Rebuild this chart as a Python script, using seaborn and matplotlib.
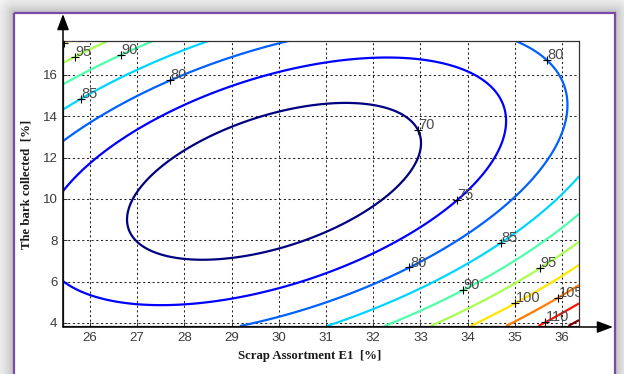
import numpy as np
import matplotlib
matplotlib.use("Agg")
import matplotlib.pyplot as plt
from matplotlib.patches import Rectangle
import seaborn as sns

# Second-order response surface of bark collected vs. scrap assortment
response_min = 66.65          # value at the optimum
optimum_x = 29.9              # scrap assortment E1 [%]
optimum_y = 10.85             # bark collected [%]
coef_xx = 0.453
coef_xy = -0.362
coef_yy = 0.305

levels = [70, 75, 80, 85, 90, 95, 100, 105, 110, 115]
x_ticks = [26, 27, 28, 29, 30, 31, 32, 33, 34, 35, 36]
y_ticks = [4, 6, 8, 10, 12, 14, 16]
x_range = (25.43, 36.36)
y_range = (3.85, 17.64)

# where each inline level label sits (snapped onto its contour)
label_spots = [
    (70, 33.0, 13.44),
    (75, 33.78, 9.9),
    (80, 32.76, 6.66), (80, 27.72, 15.6), (80, 35.68, 16.73),
    (85, 25.83, 14.8), (85, 34.71, 7.88),
    (90, 26.7, 16.82), (90, 33.9, 5.6),
    (95, 25.72, 16.77), (95, 35.53, 6.66),
    (100, 25.47, 17.45), (100, 35.0, 5.0),
    (105, 35.91, 5.25),
    (110, 35.66, 4.0),
]

sns.set_theme(style="white")
plt.rcParams["font.family"] = ["Liberation Sans", "DejaVu Sans"]

W, H = 624, 374
fig = plt.figure(figsize=(W / 100, H / 100), dpi=100)
fig.patch.set_facecolor("white")

# page backdrop: framed panel with a soft drop shadow
bg = fig.add_axes([0, 0, 1, 1], zorder=0)
bg.set_xlim(0, W)
bg.set_ylim(H, 0)
bg.axis("off")
fl, ft, fr, fb = 14, 13, 615, H + 30
yy, xx = np.mgrid[0:H, 0:W] + 0.5
dx = np.maximum(np.maximum(fl - xx, xx - fr), 0)
dy = np.maximum(np.maximum(ft - yy, yy - fb), 0)
dist = np.hypot(dx, dy)
outside = (dx > 0) | (dy > 0)
shade = np.where(outside, 1 - 0.27 * np.exp(-dist / 11), 1.0)
bg.imshow(shade, cmap="gray", vmin=0, vmax=1, extent=(0, W, H, 0),
          interpolation="bilinear", aspect="auto")
bg.add_patch(Rectangle((fl, ft), fr - fl, fb - ft, fill=False,
                       ec="#7b4aa8", lw=1.6))

# contour panel
ax = fig.add_axes([63 / W, (H - 326) / H, 516 / W, 285 / H], zorder=1)
ax.set_facecolor("white")

gx = np.linspace(*x_range, 400)
gy = np.linspace(*y_range, 400)
X, Y = np.meshgrid(gx, gy)
U, V = X - optimum_x, Y - optimum_y
Z = response_min + coef_xx * U**2 + coef_xy * U * V + coef_yy * V**2

cmap = matplotlib.colormaps["jet"]
norm = plt.Normalize(levels[0], levels[-1])
line_colors = [cmap(norm(lv)) for lv in levels]
cs = ax.contour(X, Y, Z, levels=levels, colors=line_colors, linewidths=1.6)

# MATLAB-style labels: a plus on the line, value up and to the right
for lv, tx, ty in label_spots:
    segs = [s for s in cs.allsegs[levels.index(lv)] if len(s)]
    pts = np.vstack(segs)
    k = np.argmin(((pts[:, 0] - tx) * 47.2) ** 2 + ((pts[:, 1] - ty) * 20.7) ** 2)
    px, py = pts[k]
    ax.plot(px, py, marker="+", color="black", ms=6, mew=0.8, zorder=4)
    ax.annotate(f"{lv}", (px, py), xytext=(0.3, -1.5), textcoords="offset points",
                ha="left", va="bottom", fontsize=10.5, color="#4a4a4a",
                annotation_clip=False, clip_on=True, zorder=5)

ax.set_xlim(*x_range)
ax.set_ylim(*y_range)
ax.set_xticks(x_ticks)
ax.set_yticks(y_ticks)
ax.grid(True, color="#222222", linestyle=(0, (2, 2.5)), linewidth=0.75)
ax.tick_params(direction="in", length=3, width=0.7, labelsize=9.5,
               labelcolor="#3a3a3a", color="#333333", pad=4,
               bottom=True, left=True)
for side in ax.spines.values():
    side.set_color("#333333")
    side.set_linewidth(0.9)

# axis arrows
ov = fig.add_axes([0, 0, 1, 1], zorder=3)
ov.set_xlim(0, W)
ov.set_ylim(H, 0)
ov.axis("off")
ov.patch.set_alpha(0)
arrow = dict(arrowstyle="-|>,head_length=0.8,head_width=0.3", color="black",
             lw=1.1, shrinkA=0, shrinkB=0)
ov.annotate("", xy=(63, 14), xytext=(63, 327), arrowprops=arrow)
ov.annotate("", xy=(613, 327), xytext=(63, 327), arrowprops=arrow)

serif = ["Liberation Serif", "DejaVu Serif"]
fig.text(310 / W, 1 - 356 / H, "Scrap Assortment E1  [%]", family=serif,
         weight="bold", fontsize=9.2, ha="center", va="center", color="#1a1a1a")
fig.text(27 / W, 1 - 184 / H, "The bark collected  [%]", family=serif,
         weight="bold", fontsize=9.2, ha="center", va="center",
         rotation=90, color="#1a1a1a")

fig.savefig("out.png", dpi=100, facecolor="white")
